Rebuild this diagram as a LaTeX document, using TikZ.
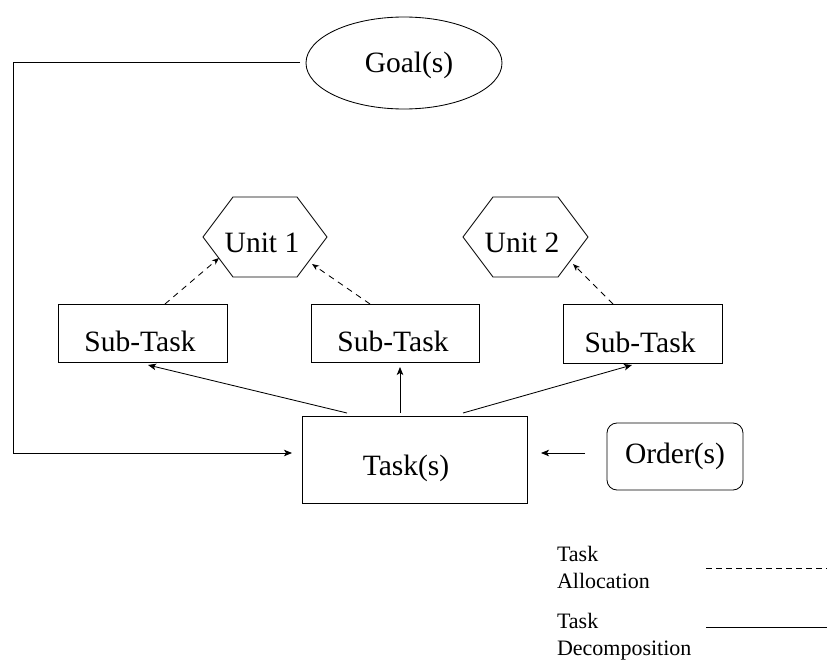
\documentclass[tikz,border=0pt]{standalone}
\usepackage{fontspec}
\setmainfont{Liberation Serif}
\usetikzlibrary{arrows.meta,shapes.geometric}
\begin{document}
\begin{tikzpicture}[x=1pt,y=-1pt,
  line width=0.85pt,
  every node/.style={inner sep=0pt,outer sep=0pt},
  box/.style={draw,rectangle,line width=0.85pt},
  lbl/.style={font=\fontsize{29.5}{34}\selectfont,anchor=base},
  leg/.style={font=\fontsize{22}{26.5}\selectfont,anchor=base west,align=left},
  arr/.style={-{Stealth[length=8pt,width=6.5pt,inset=2pt]}},
  darr/.style={-{Stealth[length=7pt,width=5.5pt,inset=2pt]},dash pattern=on 6pt off 5pt},
]
\useasboundingbox (0,0) rectangle (827,661);
% Goal
\node[draw,ellipse,minimum width=196pt,minimum height=92pt] (goal) at (404,63) {};
\node[lbl] (goalt) at (409,73) {Goal(s)};
% hexagons
\draw (203,237) -- (233,197) -- (297,197) -- (327,237) -- (297,277) -- (233,277) -- cycle;
\coordinate (u1) at (265,237);
\node[lbl] (u1t) at (262,252) {Unit 1};
\draw (463,237) -- (493,197) -- (558,197) -- (588,237) -- (558,277) -- (493,277) -- cycle;
\coordinate (u2) at (525,237);
\node[lbl] (u2t) at (522,252) {Unit 2};
% sub-tasks
\node[box,minimum width=169pt,minimum height=58pt] (s1) at (142.5,333) {};
\node[lbl] (s1t) at (140,351) {Sub-Task};
\node[box,minimum width=168pt,minimum height=58pt] (s2) at (395,333) {};
\node[lbl] (s2t) at (393,351) {Sub-Task};
\node[box,minimum width=159pt,minimum height=59pt] (s3) at (642.5,333.5) {};
\node[lbl] (s3t) at (640,352) {Sub-Task};
% task
\node[box,minimum width=225pt,minimum height=87pt] (task) at (414.5,459.5) {};
\node[lbl] (taskt) at (406,475) {Task(s)};
% order
\node[box,rounded corners=10pt,minimum width=136pt,minimum height=67pt] (order) at (675,456.5) {};
\node[lbl] (ordert) at (675,463) {Order(s)};
% goal to task
\coordinate (corner) at (13,62);
\draw[arr] ([shift={(-6,-1)}]goal.west) -- (corner) |- ([shift={(-10,-6.5)}]task.west);
% order to task
\draw[arr] ([shift={(-22,-3.5)}]order.west) -- ([shift={(14,-6.5)}]task.east);
% decomposition
\draw[arr] ([shift={(-67.5,-3)}]task.north) -- ([shift={(5.5,3)}]s1.south);
\draw[arr] ([shift={(-14.5,-3)}]task.north) -- ([shift={(5,5)}]s2.south);
\draw[arr] ([shift={(48.5,-3)}]task.north) -- ([shift={(-10.5,2)}]s3.south);
% allocation
\draw[darr] ([shift={(22.5,0)}]s1.north) -- ([shift={(-46,21)}]u1);
\draw[darr] ([shift={(-25,0)}]s2.north) -- ([shift={(47,27)}]u1);
\draw[darr] ([shift={(-29.5,0)}]s3.north) -- ([shift={(48,27)}]u2);
% legend
\node[leg] (l1) at (557,588) {Task\\Allocation};
\node[leg] (l2) at (557,655) {Task\\Decomposition};
\draw[dash pattern=on 6pt off 4pt] (706,568) -- (827,568);
\draw (706,627) -- (827,627);
\end{tikzpicture}
\end{document}
